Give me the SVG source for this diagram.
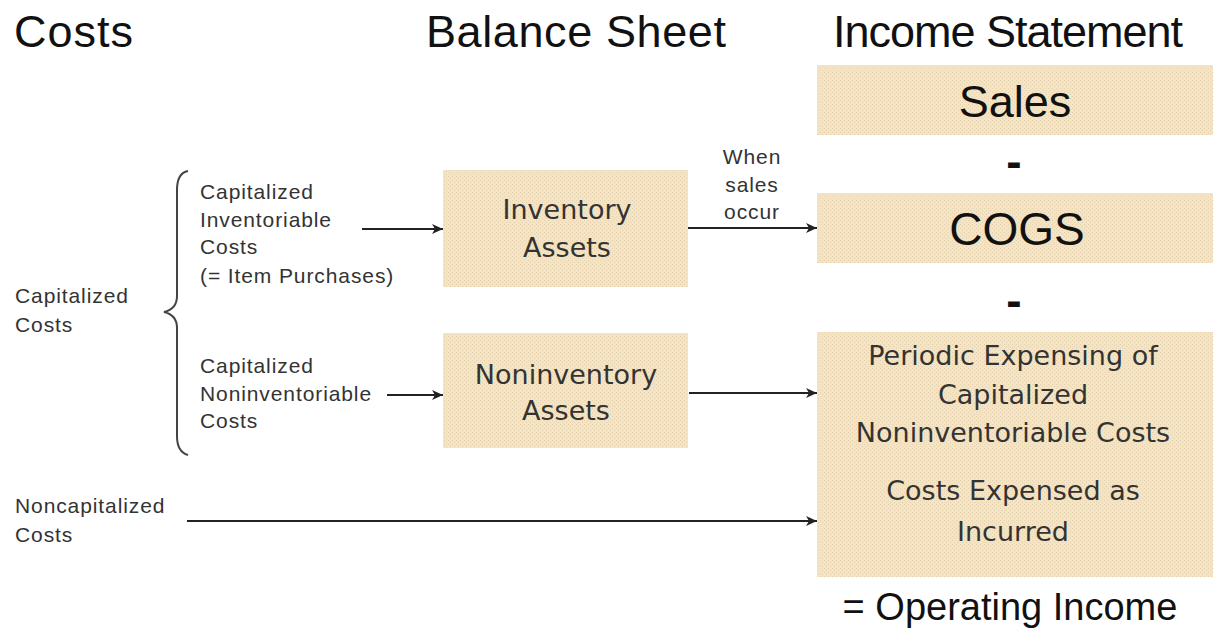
<svg xmlns="http://www.w3.org/2000/svg" width="1214" height="630" viewBox="0 0 1214 630">
  <style>
    .hdr { font-family: "Liberation Sans", Arial, sans-serif; font-size: 45px; fill: #111; }
    .sm { font-family: "Liberation Sans", Arial, sans-serif; font-size: 21px; letter-spacing: 0.9px; fill: #333; }
    .bx { font-family: "DejaVu Sans", Verdana, sans-serif; font-size: 27px; fill: #333; text-anchor: middle; }
    .big { font-family: "Liberation Sans", Arial, sans-serif; fill: #111; text-anchor: middle; }
    .box { fill: url(#tex); }
    .conn { stroke: #222; stroke-width: 2; fill: none; marker-end: url(#ah); }
  </style>
  <defs>
    <pattern id="tex" width="4" height="4" patternUnits="userSpaceOnUse">
      <rect width="4" height="4" fill="#F3E4C8"/>
      <rect x="0" y="0" width="1" height="1" fill="#E5D1AB"/>
      <rect x="2" y="2" width="1" height="1" fill="#E5D1AB"/>
    </pattern>
    <marker id="ah" markerUnits="userSpaceOnUse" markerWidth="12" markerHeight="10" refX="11" refY="5" orient="auto">
      <path d="M0,0 L11,5 L0,10 L3,5 Z" fill="#222"/>
    </marker>
  </defs>
  <rect width="1214" height="630" fill="#fff"/>

  <g id="headers">
    <text class="hdr" x="14" y="47" textLength="119">Costs</text>
    <text class="hdr" x="426" y="47" textLength="300">Balance Sheet</text>
    <text class="hdr" x="833" y="47" textLength="350">Income Statement</text>
  </g>

  <g id="capitalized-costs">
    <text class="sm" x="15" y="303">Capitalized</text>
    <text class="sm" x="15" y="332">Costs</text>
  </g>

  <g id="brace">
    <path d="M188,171 Q177,173 177,190 L177,296 Q177,309 164,312 Q177,315 177,328 L177,436 Q177,452 188,455" stroke="#444" stroke-width="2" fill="none"/>
  </g>

  <g id="cap-inv-costs">
    <text class="sm" x="200" y="199">Capitalized</text>
    <text class="sm" x="200" y="227">Inventoriable</text>
    <text class="sm" x="200" y="254">Costs</text>
    <text class="sm" x="200" y="283">(= Item Purchases)</text>
  </g>

  <g id="cap-noninv-costs">
    <text class="sm" x="200" y="373">Capitalized</text>
    <text class="sm" x="200" y="401">Noninventoriable</text>
    <text class="sm" x="200" y="428">Costs</text>
  </g>

  <g id="noncap-costs">
    <text class="sm" x="15" y="513">Noncapitalized</text>
    <text class="sm" x="15" y="542">Costs</text>
  </g>

  <g id="inventory-assets">
    <rect class="box" x="443" y="170" width="245" height="117"/>
    <text class="bx" x="567" y="219">Inventory</text>
    <text class="bx" x="567" y="257">Assets</text>
  </g>

  <g id="noninventory-assets">
    <rect class="box" x="443" y="333" width="245" height="115"/>
    <text class="bx" x="566" y="384">Noninventory</text>
    <text class="bx" x="566" y="420">Assets</text>
  </g>

  <g id="sales">
    <rect class="box" x="817" y="65" width="396" height="70"/>
    <text class="big" x="1015" y="117" font-size="45">Sales</text>
  </g>

  <g id="minus1">
    <text class="big" x="1014" y="177" font-size="46" font-weight="bold">-</text>
  </g>

  <g id="cogs">
    <rect class="box" x="817" y="193" width="396" height="70"/>
    <text class="big" x="1017" y="245" font-size="46">COGS</text>
  </g>

  <g id="minus2">
    <text class="big" x="1014" y="316" font-size="46" font-weight="bold">-</text>
  </g>

  <g id="expenses">
    <rect class="box" x="817" y="332" width="396" height="245"/>
    <text class="bx" x="1013" y="365">Periodic Expensing of</text>
    <text class="bx" x="1013" y="404">Capitalized</text>
    <text class="bx" x="1013" y="442">Noninventoriable Costs</text>
    <text class="bx" x="1013" y="500">Costs Expensed as</text>
    <text class="bx" x="1013" y="541">Incurred</text>
  </g>

  <g id="operating-income">
    <text class="big" x="1010" y="620" font-size="38">= Operating Income</text>
  </g>

  <g id="connectors">
    <line class="conn" x1="362" y1="229" x2="443" y2="229"/>
    <line class="conn" x1="688" y1="228" x2="817" y2="228"/>
    <line class="conn" x1="387" y1="395" x2="443" y2="395"/>
    <line class="conn" x1="689" y1="393" x2="817" y2="393"/>
    <line class="conn" x1="187" y1="521" x2="817" y2="521"/>
    <text class="sm" x="752" y="164" text-anchor="middle">When</text>
    <text class="sm" x="752" y="192" text-anchor="middle">sales</text>
    <text class="sm" x="752" y="219" text-anchor="middle">occur</text>
  </g>
</svg>
